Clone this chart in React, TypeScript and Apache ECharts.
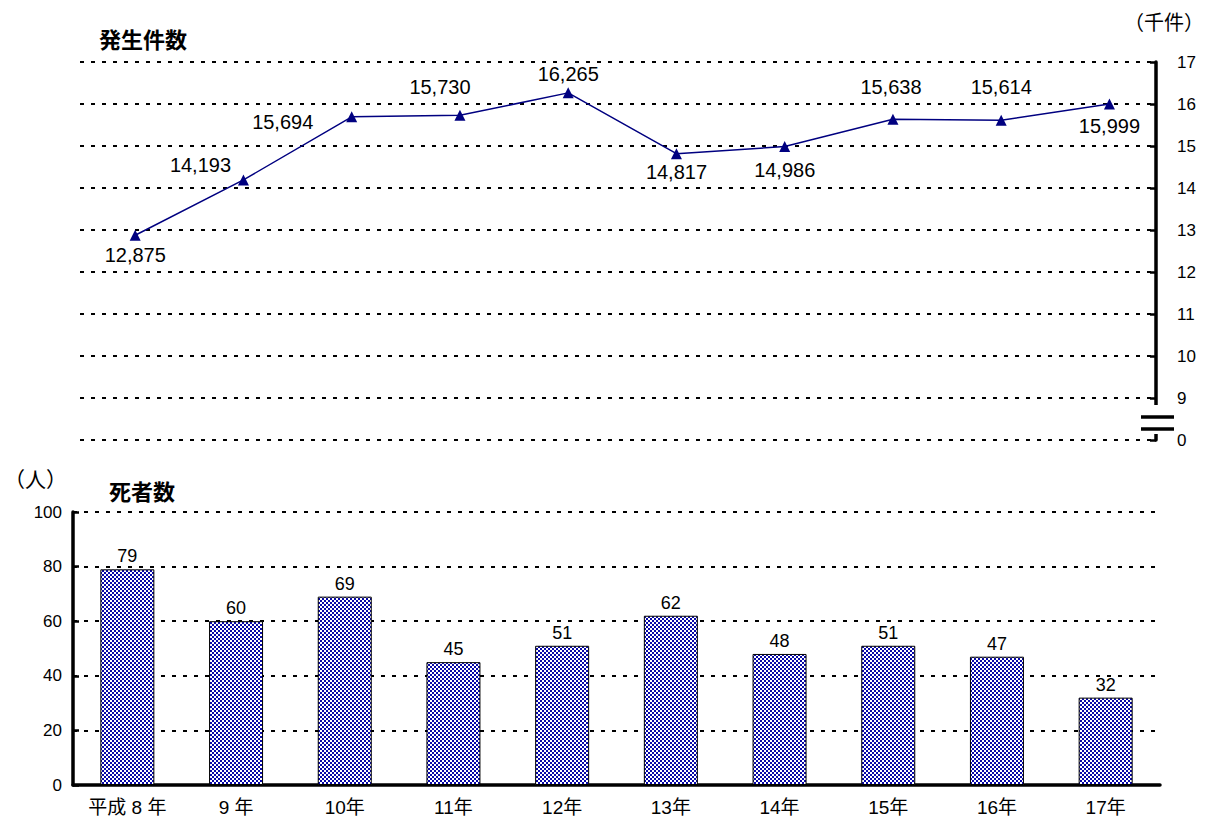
import React, { useEffect, useRef } from "react";
import * as echarts from "echarts";

const years = ["平成 8 年", "9 年", "10年", "11年", "12年", "13年", "14年", "15年", "16年", "17年"];
const incidents = [12875, 14193, 15694, 15730, 16265, 14817, 14986, 15638, 15614, 15999];
const deaths = [79, 60, 69, 45, 51, 62, 48, 51, 47, 32];
// label offsets (dx, dy) relative to each point, pixels
const incidentLabelOffsets = [
  [0, 20], [-43, -15], [-69, 5], [-20, -28], [0, -19],
  [0, 18], [0, 23], [-2, -32], [0, -33], [0, 22],
];

const FONT = "'Liberation Sans', 'Noto Sans CJK JP', Arial, sans-serif";
const CJK = "'Noto Sans CJK JP', sans-serif";

function makePattern(): string {
  const c = document.createElement("canvas");
  c.width = 4;
  c.height = 4;
  const ctx = c.getContext("2d")!;
  ctx.fillStyle = "#ffffff";
  ctx.fillRect(0, 0, 4, 4);
  ctx.fillStyle = "#0808a8";
  ctx.fillRect(0, 0, 2, 2);
  ctx.fillRect(2, 2, 2, 2);
  return c.toDataURL();
}

export default function App() {
  const ref = useRef<HTMLDivElement>(null);
  useEffect(() => {
    if (!ref.current) return;
    const chart = echarts.init(ref.current, null, { renderer: "svg" });
    const pattern = makePattern();
    const dotted = { color: "#000", width: 2, type: [4, 7] as any };
    const axisLineStyle = { color: "#000", width: 3.5 };
    const tickStyle = { color: "#000", width: 2.5 };

    chart.setOption({
      animation: false,
      textStyle: { fontFamily: FONT, color: "#000" },
      title: [
        { text: "発生件数", left: 99, top: 27, padding: 0, textStyle: { fontFamily: CJK, fontSize: 22, fontWeight: "bold", color: "#000" } },
        { text: "死者数", left: 109, top: 479, padding: 0, textStyle: { fontFamily: CJK, fontSize: 22, fontWeight: "bold", color: "#000" } },
        { text: "（千件）", left: 1124, top: 11, padding: 0, textStyle: { fontFamily: CJK, fontSize: 20, fontWeight: "normal", color: "#000" } },
        { text: "（人）", left: 4, top: 467, padding: 0, textStyle: { fontFamily: CJK, fontSize: 21, fontWeight: "normal", color: "#000" } },
      ],
      grid: [
        { left: 80, right: 53, top: 62, bottom: 383, containLabel: false },
        { left: 73, right: 49, top: 512, bottom: 38, containLabel: false },
      ],
      xAxis: [
        { type: "value", gridIndex: 0, min: -0.51, max: 9.43, show: false },
        {
          type: "category",
          gridIndex: 1,
          data: years,
          boundaryGap: true,
          axisLine: { onZero: false, lineStyle: axisLineStyle },
          axisTick: { inside: true, length: 6, lineStyle: tickStyle },
          axisLabel: { color: "#000", fontSize: 19, margin: 13, fontFamily: FONT },
          splitLine: { show: false },
        },
      ],
      yAxis: [
        {
          type: "value",
          gridIndex: 0,
          position: "right",
          min: 8,
          max: 17,
          interval: 1,
          axisLine: { show: true, onZero: false, lineStyle: axisLineStyle },
          axisTick: { show: true, inside: true, length: 6, lineStyle: tickStyle },
          axisLabel: {
            color: "#000",
            fontSize: 17,
            margin: 21,
            formatter: (v: number) => (v === 8 ? "0" : String(v)),
          },
          splitLine: { show: true, lineStyle: dotted },
        },
        {
          type: "value",
          gridIndex: 1,
          position: "left",
          min: 0,
          max: 100,
          interval: 20,
          axisLine: { show: true, onZero: false, lineStyle: axisLineStyle },
          axisTick: { show: true, inside: true, length: 6, lineStyle: tickStyle },
          axisLabel: { color: "#000", fontSize: 17, margin: 11 },
          splitLine: { show: true, lineStyle: dotted },
        },
      ],
      series: [
        {
          type: "line",
          xAxisIndex: 0,
          yAxisIndex: 0,
          data: incidents.map((v, i) => ({
            value: [i, v / 1000],
            label: { offset: incidentLabelOffsets[i] },
          })),
          symbol: "triangle",
          symbolSize: 11,
          lineStyle: { color: "#000080", width: 1.5 },
          itemStyle: { color: "#000080" },
          label: {
            show: true,
            position: "inside",
            fontSize: 20,
            color: "#000",
            formatter: (p: any) => incidents[p.dataIndex].toLocaleString("en-US"),
          },
          z: 5,
        },
        {
          type: "bar",
          xAxisIndex: 1,
          yAxisIndex: 1,
          data: deaths,
          barWidth: 54,
          itemStyle: {
            color: { image: pattern, repeat: "repeat", imageWidth: 4, imageHeight: 4 } as any,
            borderColor: "#000",
            borderWidth: 1,
          },
          label: { show: true, position: "top", distance: 4, fontSize: 18, color: "#000" },
        },
      ],
      graphic: [
        { type: "rect", z: 100, shape: { x: 1147, y: 405, width: 18, height: 29 }, style: { fill: "#fff" } },
        { type: "line", z: 101, shape: { x1: 1141, y1: 417, x2: 1174, y2: 417 }, style: { stroke: "#000", lineWidth: 3.5 } },
        { type: "line", z: 101, shape: { x1: 1141, y1: 429, x2: 1174, y2: 429 }, style: { stroke: "#000", lineWidth: 3.5 } },
      ],
    });
    return () => chart.dispose();
  }, []);
  return <div ref={ref} style={{ position: "absolute", left: 0, top: 0, width: 1209, height: 823 }} />;
}
